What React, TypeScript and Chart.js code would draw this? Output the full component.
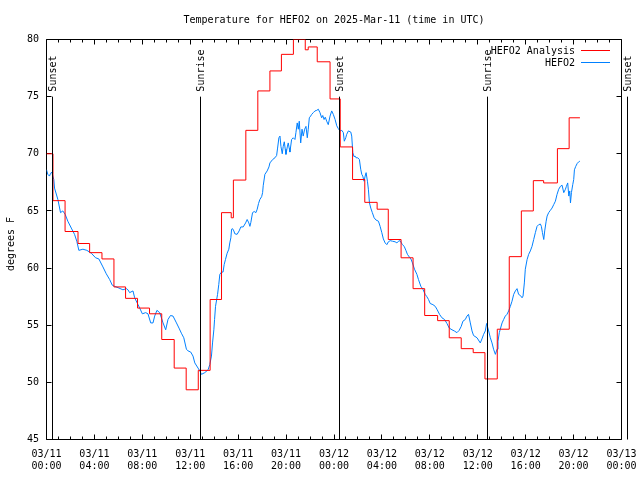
import React, { useEffect, useRef } from "react";
import { Chart, registerables } from "chart.js";

Chart.register(...registerables);

const FONT = "'DejaVu Sans Mono', 'Liberation Mono', monospace";
const TITLE = "Temperature for HEFO2 on 2025-Mar-11 (time in UTC)";
const Y_LABEL = "degrees F";

const xTickHours = [0, 4, 8, 12, 16, 20, 24, 28, 32, 36, 40, 44, 48];
const xTickLabels = [
  ["03/11", "00:00"], ["03/11", "04:00"], ["03/11", "08:00"], ["03/11", "12:00"],
  ["03/11", "16:00"], ["03/11", "20:00"], ["03/12", "00:00"], ["03/12", "04:00"],
  ["03/12", "08:00"], ["03/12", "12:00"], ["03/12", "16:00"], ["03/12", "20:00"],
  ["03/13", "00:00"],
];
const xMinorStepHours = 1;
const yTicks = [45, 50, 55, 60, 65, 70, 75, 80];

const sunLabels = ["Sunset", "Sunrise", "Sunset", "Sunrise", "Sunset"];
const sunHours = [0.48, 12.85, 24.46, 36.81, 48.5];

const seriesNames = ["HEFO2 Analysis", "HEFO2"];
const seriesColors = ["#ff0000", "#0080ff"];

const analysisHours = [0, 0.54, 1.55, 2.63, 3.6, 4.63, 5.63, 6.6, 7.6, 8.6, 9.62, 10.66, 11.66, 12.67, 13.66, 14.61, 15.42, 15.6, 16.64, 17.64, 18.65, 19.61, 20.61, 21.6, 21.85, 22.6, 23.67, 24.52, 25.55, 26.57, 27.6, 28.53, 29.6, 30.6, 31.57, 32.65, 33.62, 34.62, 35.62, 36.6, 37.63, 38.63, 39.64, 40.64, 41.5, 42.65, 43.63, 44.53];
const analysisTempF = [70.0, 65.9, 63.2, 62.15, 61.35, 60.8, 58.35, 57.35, 56.5, 56.0, 53.75, 51.25, 49.35, 51.05, 57.25, 64.85, 64.4, 67.7, 72.05, 75.5, 77.25, 78.7, 80.0, 79.1, 79.35, 78.05, 74.8, 70.6, 67.75, 65.75, 65.15, 62.5, 60.9, 58.2, 55.85, 55.4, 53.9, 52.95, 52.6, 50.3, 54.65, 61.0, 65.0, 67.65, 67.45, 70.45, 73.15, 73.15];

const obsHours = [
  0.0, 0.11, 0.25, 0.33, 0.44, 0.53, 0.61, 0.67, 0.95, 1.17, 1.36, 1.56, 1.78, 2.07, 2.34, 2.53, 2.7, 3.04, 3.37, 3.74,
  4.1, 4.37, 4.71, 4.99, 5.27, 5.49, 5.69, 6.05, 6.38, 6.67, 6.8, 6.94, 7.22, 7.36, 7.64, 7.78, 8.0, 8.28, 8.47, 8.7,
  8.89, 9.03, 9.22, 9.45, 9.73, 9.95, 10.14, 10.35, 10.56, 10.85, 11.06, 11.26, 11.46, 11.68, 11.82, 12.04, 12.23, 12.38, 12.65, 12.8,
  12.94, 13.21, 13.49, 13.63, 13.77, 13.86, 13.97, 14.03, 14.11, 14.28, 14.38, 14.47, 14.61, 14.74, 14.83, 14.94, 15.08, 15.22, 15.3, 15.39,
  15.45, 15.53, 15.64, 15.72, 15.91, 16.08, 16.22, 16.42, 16.62, 16.75, 16.89, 16.98, 17.06, 17.2, 17.34, 17.48, 17.59, 17.7, 17.81, 17.96,
  18.04, 18.09, 18.23, 18.42, 18.57, 18.65, 18.88, 19.07, 19.21, 19.29, 19.4, 19.49, 19.57, 19.68, 19.76, 19.85, 19.93, 19.99, 20.1, 20.18,
  20.26, 20.32, 20.46, 20.6, 20.74, 20.82, 20.93, 21.02, 21.1, 21.22, 21.33, 21.43, 21.55, 21.66, 21.77, 21.85, 21.94, 22.05, 22.14, 22.27,
  22.41, 22.56, 22.69, 22.83, 22.97, 23.06, 23.17, 23.27, 23.39, 23.52, 23.67, 23.81, 23.94, 24.09, 24.23, 24.36, 24.5, 24.65, 24.78, 24.86,
  24.98, 25.06, 25.2, 25.4, 25.48, 25.57, 25.67, 25.76, 25.84, 25.98, 26.12, 26.23, 26.32, 26.4, 26.51, 26.6, 26.68, 26.79, 26.87, 26.96,
  27.07, 27.2, 27.35, 27.51, 27.71, 27.85, 27.99, 28.12, 28.27, 28.41, 28.54, 28.69, 28.88, 29.1, 29.25, 29.38, 29.52, 29.71, 29.86, 30.0,
  30.13, 30.3, 30.42, 30.55, 30.72, 30.92, 31.05, 31.25, 31.42, 31.61, 31.75, 31.89, 32.03, 32.26, 32.45, 32.59, 32.81, 33.01, 33.23, 33.43,
  33.62, 33.85, 34.04, 34.26, 34.45, 34.62, 34.76, 34.96, 35.1, 35.23, 35.38, 35.52, 35.65, 35.94, 36.21, 36.35, 36.49, 36.63, 36.74, 36.91,
  37.05, 37.19, 37.32, 37.47, 37.61, 37.69, 37.8, 37.88, 38.03, 38.16, 38.3, 38.44, 38.58, 38.72, 38.86, 39.0, 39.14, 39.28, 39.41, 39.56,
  39.7, 39.78, 39.89, 39.97, 40.12, 40.25, 40.39, 40.53, 40.67, 40.81, 40.95, 41.09, 41.23, 41.31, 41.4, 41.51, 41.59, 41.71, 41.79, 41.92,
  42.06, 42.2, 42.34, 42.48, 42.62, 42.76, 42.9, 43.04, 43.18, 43.32, 43.4, 43.51, 43.6, 43.68, 43.74, 43.82, 43.93, 44.01, 44.07, 44.18,
  44.3, 44.43, 44.52,
];
const obsTempF = [
  68.6, 68.2, 68.05, 68.27, 68.4, 68.05, 67.75, 67.0, 66.0, 64.85, 65.0, 64.7, 64.1, 63.5, 62.95, 62.35, 61.55, 61.65, 61.55, 61.3,
  60.9, 60.8, 60.1, 59.5, 59.0, 58.5, 58.4, 58.25, 58.1, 58.2, 58.1, 57.85, 58.0, 57.4, 56.8, 56.5, 56.0, 56.1, 56.0, 55.2,
  55.2, 55.8, 56.3, 56.1, 55.2, 54.6, 55.5, 55.85, 55.8, 55.2, 54.75, 54.3, 53.9, 52.9, 52.75, 52.65, 52.3, 51.7, 51.25, 51.0,
  50.7, 50.85, 51.1, 51.55, 52.3, 53.45, 54.6, 55.5, 56.65, 57.7, 58.55, 59.45, 59.65, 59.65, 60.3, 60.75, 61.3, 61.65, 62.2, 62.65,
  63.4, 63.45, 63.25, 63.0, 62.95, 63.25, 63.6, 63.6, 63.95, 64.25, 63.95, 63.65, 64.0, 64.85, 64.95, 64.85, 65.15, 65.65, 66.0, 66.25,
  66.6, 67.2, 68.2, 68.5, 68.85, 69.2, 69.5, 69.65, 69.85, 70.5, 71.4, 71.55, 70.65, 70.0, 70.65, 71.05, 70.4, 69.95, 70.6, 70.95,
  70.5, 70.15, 71.25, 71.4, 71.25, 71.85, 72.7, 72.15, 72.85, 70.95, 72.15, 71.55, 72.15, 72.4, 71.4, 72.15, 73.15, 73.3, 73.45, 73.6,
  73.75, 73.8, 73.9, 73.6, 73.15, 73.35, 73.0, 73.2, 72.85, 72.55, 73.3, 73.75, 73.45, 73.0, 72.45, 72.2, 72.0, 72.05, 71.85, 71.1,
  71.4, 71.7, 72.0, 71.9, 71.55, 70.1, 69.75, 69.8, 69.65, 69.65, 69.5, 68.65, 68.2, 68.05, 67.6, 68.05, 68.35, 67.6, 66.9, 65.7,
  65.25, 64.85, 64.4, 64.2, 64.1, 63.65, 63.1, 62.55, 62.2, 62.05, 62.3, 62.4, 62.35, 62.3, 62.2, 62.35, 62.4, 62.05, 61.9, 61.55,
  61.2, 60.95, 60.8, 60.45, 59.9, 59.45, 59.0, 58.4, 58.15, 57.7, 57.5, 57.25, 56.9, 56.8, 56.65, 56.4, 55.95, 55.65, 55.5, 55.15,
  54.75, 54.6, 54.5, 54.35, 54.55, 54.9, 55.35, 55.5, 55.8, 55.95, 55.2, 54.5, 54.1, 53.9, 53.45, 53.8, 54.2, 54.5, 55.15, 54.5,
  53.9, 53.45, 52.9, 52.45, 52.9, 53.6, 54.35, 54.65, 55.2, 55.5, 55.8, 55.95, 56.25, 56.65, 57.1, 57.7, 58.0, 58.2, 57.7, 57.6,
  57.4, 57.55, 58.7, 59.9, 60.75, 61.2, 61.5, 61.9, 62.5, 63.1, 63.65, 63.8, 63.85, 63.65, 63.1, 62.5, 63.25, 64.1, 64.55, 64.85,
  65.05, 65.25, 65.55, 65.85, 66.45, 66.9, 67.15, 67.25, 66.6, 66.9, 67.15, 67.45, 66.3, 66.75, 65.7, 66.6, 67.3, 67.75, 68.6, 68.9,
  69.15, 69.3, 69.35,
];

const gnuplotDecor = {
  id: "gnuplotDecor",
  beforeDatasetsDraw(chart: any) {
    const { ctx, chartArea: a, scales } = chart;
    const x = scales.x;
    const y = scales.y;
    ctx.save();
    ctx.strokeStyle = "#000";
    ctx.lineWidth = 1;
    ctx.beginPath();
    ctx.rect(a.left, a.top, a.right - a.left, a.bottom - a.top);
    for (let h = xTickHours[0]; h <= xTickHours[xTickHours.length - 1]; h += xMinorStepHours) {
      const px = Math.floor(x.getPixelForValue(h)) + 0.5;
      const len = xTickHours.includes(h) ? 5 : 3;
      ctx.moveTo(px, a.bottom);
      ctx.lineTo(px, a.bottom - len);
      ctx.moveTo(px, a.top);
      ctx.lineTo(px, a.top + len);
    }
    for (const v of yTicks) {
      const py = Math.floor(y.getPixelForValue(v)) + 0.5;
      ctx.moveTo(a.left, py);
      ctx.lineTo(a.left + 5, py);
      ctx.moveTo(a.right, py);
      ctx.lineTo(a.right - 5, py);
    }
    ctx.stroke();
    ctx.restore();
  },
  afterDatasetsDraw(chart: any) {
    const { ctx, chartArea: a, scales } = chart;
    const x = scales.x;
    const y = scales.y;
    ctx.save();
    ctx.strokeStyle = "#000";
    ctx.fillStyle = "#000";
    ctx.lineWidth = 1;
    ctx.font = `10px ${FONT}`;
    const topY = y.getPixelForValue(75);
    sunHours.forEach((h, i) => {
      const px = Math.floor(x.getPixelForValue(h)) + 0.5;
      ctx.beginPath();
      ctx.moveTo(px, topY);
      ctx.lineTo(px, a.bottom);
      ctx.stroke();
      ctx.save();
      ctx.translate(px + 1, topY - 5);
      ctx.rotate(-Math.PI / 2);
      ctx.textAlign = "left";
      ctx.textBaseline = "middle";
      ctx.fillText(sunLabels[i], 0, 0);
      ctx.restore();
    });
    ctx.textAlign = "center";
    ctx.textBaseline = "middle";
    ctx.fillText(TITLE, (a.left + a.right) / 2, 20);
    ctx.save();
    ctx.translate(11, 244);
    ctx.rotate(-Math.PI / 2);
    ctx.fillText(Y_LABEL, 0, 0);
    ctx.restore();
    chart.data.datasets.forEach((ds: any, i: number) => {
      const ly = 50.5 + i * 12;
      ctx.textAlign = "right";
      ctx.textBaseline = "middle";
      ctx.fillStyle = "#000";
      ctx.fillText(ds.label, 575, ly + 0.5);
      ctx.strokeStyle = ds.borderColor;
      ctx.beginPath();
      ctx.moveTo(581, ly);
      ctx.lineTo(610, ly);
      ctx.stroke();
    });
    ctx.restore();
  },
};

export default function App() {
  const canvasRef = useRef<HTMLCanvasElement | null>(null);

  useEffect(() => {
    const canvas = canvasRef.current;
    if (!canvas) return;
    const tickFont = { family: FONT, size: 10, lineHeight: 1.2 };
    const chart = new Chart(canvas, {
      type: "line",
      data: {
        datasets: [
          {
            label: seriesNames[0],
            data: analysisHours.map((h, i) => ({ x: h, y: analysisTempF[i] })),
            borderColor: seriesColors[0],
            backgroundColor: seriesColors[0],
            borderWidth: 1,
            pointRadius: 0,
            stepped: "before",
            fill: false,
          },
          {
            label: seriesNames[1],
            data: obsHours.map((h, i) => ({ x: h, y: obsTempF[i] })),
            borderColor: seriesColors[1],
            backgroundColor: seriesColors[1],
            borderWidth: 1,
            pointRadius: 0,
            tension: 0,
            fill: false,
          },
        ],
      },
      options: {
        responsive: false,
        animation: false,
        devicePixelRatio: 1,
        events: [],
        layout: { padding: { top: 39.5, right: 18.5, left: 0, bottom: 0 } },
        plugins: {
          legend: { display: false },
          title: { display: false },
          tooltip: { enabled: false },
        },
        scales: {
          x: {
            type: "linear",
            min: 0,
            max: 48,
            afterBuildTicks: (s: any) => {
              s.ticks = xTickHours.map((v) => ({ value: v }));
            },
            afterFit: (s: any) => {
              s.height = 40.5;
              s.paddingLeft = 0;
              s.paddingRight = 0;
            },
            ticks: {
              callback: (_v: any, idx: number) => xTickLabels[idx],
              font: tickFont,
              color: "#000",
              padding: 9,
              maxRotation: 0,
              minRotation: 0,
              autoSkip: false,
            },
            grid: { display: false, drawTicks: false },
            border: { display: false },
          },
          y: {
            type: "linear",
            min: 45,
            max: 80,
            afterBuildTicks: (s: any) => {
              s.ticks = yTicks.map((v) => ({ value: v }));
            },
            afterFit: (s: any) => {
              s.width = 46.5;
              s.paddingTop = 0;
              s.paddingBottom = 0;
            },
            ticks: {
              font: tickFont,
              color: "#000",
              padding: 7.5,
            },
            grid: { display: false, drawTicks: false },
            border: { display: false },
          },
        },
      } as any,
      plugins: [gnuplotDecor],
    });
    return () => chart.destroy();
  }, []);

  return (
    <div style={{ position: "fixed", left: 0, top: 0, width: 640, height: 480, background: "#fff" }}>
      <canvas ref={canvasRef} width={640} height={480} style={{ display: "block" }} />
    </div>
  );
}
